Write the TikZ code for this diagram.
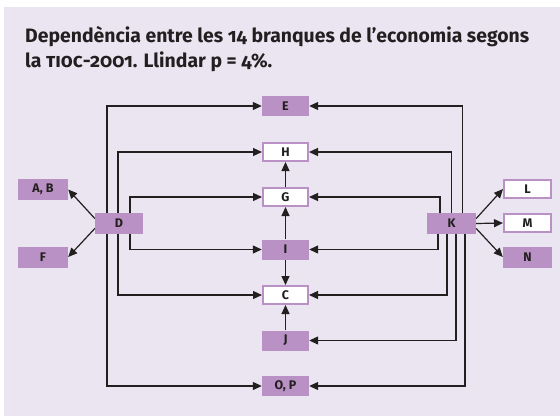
\documentclass[tikz,border=0pt]{standalone}
\usepackage{fontspec}
\setmainfont{Fira Sans}[Numbers=OldStyle]
\usepackage{tikz}
\usetikzlibrary{arrows.meta}
\definecolor{fons}{RGB}{235,228,241}
\definecolor{lila}{RGB}{185,145,196}
\definecolor{tinta}{RGB}{35,31,32}

\begin{document}
\begin{tikzpicture}[x=1pt, y=-1pt,
    branca/.style={fill=lila, minimum width=47pt, minimum height=20pt, inner sep=0pt, font=\fontsize{12.5}{14}\selectfont\bfseries, text=tinta},
    brancab/.style={branca, fill=white, draw=lila, line width=2pt, minimum width=45pt, minimum height=18pt},
    fletxa/.style={draw=tinta, line width=1.2pt, -{Triangle[length=9pt, width=8pt]}}]

    \useasboundingbox (0,0) rectangle (560,416);
    \fill[fons] (4,7) rectangle (560,416);

    \node[anchor=base west, align=left, inner sep=0pt, text=tinta, font=\fontsize{19.4}{25.4}\selectfont\bfseries] (titol) at (25,67.7)
        {Dependència entre les 14 branques de l’economia segons\\la \textsc{tioc}-2001. Llindar p = 4\%.};

    % columna central
    \node[branca] (E) at (285.5,106) {E};
    \node[brancab] (H) at (285.5,152) {H};
    \node[brancab] (G) at (285.5,197) {G};
    \node[branca] (I) at (285.5,249.5) {I};
    \node[brancab] (C) at (285.5,295) {C};
    \node[branca] (J) at (285.5,340.5) {J};
    \node[branca] (OP) at (285.5,386) {O, P};

    % esquerra i dreta
    \node[branca, minimum width=48pt, minimum height=21pt] (D) at (119,223.5) {D};
    \node[branca, minimum width=50pt, minimum height=21pt] (AB) at (43,189.5) {A, B};
    \node[branca, minimum width=50pt, minimum height=21pt] (F) at (43,257) {F};
    \node[branca, minimum width=49pt, minimum height=21pt] (K) at (451.5,223.5) {K};
    \node[brancab, minimum width=47pt] (L) at (527.5,189) {L};
    \node[brancab, minimum width=47pt] (M) at (527.5,223) {M};
    \node[branca, minimum width=49pt, minimum height=21pt] (N) at (527.5,257) {N};

    \draw[fletxa] (I) -- (G);
    \draw[fletxa] (G) -- (H);
    \draw[fletxa] (I) -- (C);
    \draw[fletxa] (J) -- (C);

    \draw[fletxa] ([yshift=5pt]D.west) -- (AB.east);
    \draw[fletxa] ([yshift=-5pt]D.west) -- (F.east);
    \draw[fletxa] ([yshift=5pt]K.east) -- (L.west);
    \draw[fletxa] (K.east) -- (M.west);
    \draw[fletxa] ([yshift=-5pt]K.east) -- (N.west);

    % D cap al centre
    \draw[fletxa] ([xshift=-12pt]D.north) |- (E.west);
    \draw[fletxa] ([xshift=-1pt]D.north) |- (H.west);
    \draw[fletxa] ([xshift=11pt]D.north) |- (G.west);
    \draw[fletxa] ([xshift=11pt]D.south) |- (I.west);
    \draw[fletxa] ([xshift=-1pt]D.south) |- (C.west);
    \draw[fletxa] ([xshift=-12pt]D.south) |- (OP.west);

    % K cap al centre
    \draw[fletxa] ([xshift=11pt]K.north) |- (E.east);
    \draw[fletxa] ([xshift=0pt]K.north) |- (H.east);
    \draw[fletxa] ([xshift=-11.5pt]K.north) |- (G.east);
    \draw[fletxa] ([xshift=-13.5pt]K.south) |- (I.east);
    \draw[fletxa] ([xshift=-4.5pt]K.south) |- (C.east);
    \draw[fletxa] ([xshift=4.5pt]K.south) |- (J.east);
    \draw[fletxa] ([xshift=13.5pt]K.south) |- (OP.east);

\end{tikzpicture}
\end{document}
